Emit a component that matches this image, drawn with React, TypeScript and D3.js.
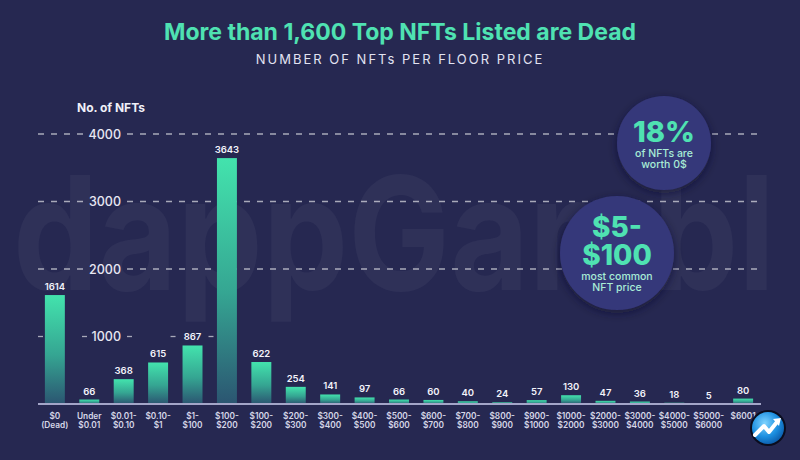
import React from 'react';
import * as d3 from 'd3';

const categoryTop = ['$0', 'Under', '$0.01-', '$0.10-', '$1-', '$100-', '$100-', '$200-', '$300-', '$400-', '$500-', '$600-', '$700-', '$800-', '$900-', '$1000-', '$2000-', '$3000-', '$4000-', '$5000-', '$6001'];
const categoryBottom = ['(Dead)', '$0.01', '$0.10', '$1', '$100', '$200', '$200', '$300', '$400', '$500', '$600', '$700', '$800', '$900', '$1000', '$2000', '$3000', '$4000', '$5000', '$6000', ''];
const nftCounts = [1614, 66, 368, 615, 867, 3643, 622, 254, 141, 97, 66, 60, 40, 24, 57, 130, 47, 36, 18, 5, 80];
const yTicks = [1000, 2000, 3000, 4000];

const W = 800;
const H = 460;
const BG = '#262851';
const MINT = '#4fe2b2';
const FONT = 'Inter, "Noto Sans", sans-serif';

const App: React.FC = () => {
  const idx = nftCounts.map((_, i) => String(i));

  const x = d3.scaleBand<string>()
    .domain(idx)
    .range([38, 760])
    .paddingInner(0.42)
    .paddingOuter(0.2);

  const y = d3.scaleLinear()
    .domain([0, 4000])
    .range([404, 134]);

  const bw = x.bandwidth();
  const cx = (i: number) => (x(String(i)) ?? 0) + bw / 2;

  // full dashed lines, broken around the tick label
  const gridLeft = 38;
  const gridRight = 760;
  const labelGapL = 88;
  const labelGapR = 127;

  return (
    <svg width={W} height={H} style={{ position: 'fixed', left: 0, top: 0, background: BG }}>
      <defs>
        <linearGradient id="bar-grad" x1="0" y1="0" x2="0" y2="1">
          <stop offset="0%" stopColor="#43e3ad" />
          <stop offset="55%" stopColor="#35a592" />
          <stop offset="100%" stopColor="#2b5571" />
        </linearGradient>
        <radialGradient id="logo-grad" cx="40%" cy="35%" r="70%">
          <stop offset="0%" stopColor="#7fd4ff" />
          <stop offset="60%" stopColor="#1c8fe0" />
          <stop offset="100%" stopColor="#0b5aa8" />
        </radialGradient>
        <filter id="bubble-shadow" x="-30%" y="-30%" width="160%" height="160%">
          <feDropShadow dx="0" dy="3" stdDeviation="5" floodColor="#12132e" floodOpacity="0.6" />
        </filter>
      </defs>

      <rect width={W} height={H} fill={BG} />

      {/* watermark */}
      <text x={13} y={290} fontFamily={FONT} fontWeight={700} fontSize={158}
        fill="#ffffff" fillOpacity={0.045} textLength={762} lengthAdjust="spacingAndGlyphs">
        dappGambl
      </text>

      {/* title */}
      <text x={W / 2} y={40} textAnchor="middle" fontFamily={FONT} fontWeight={700} fontSize={23} fill={MINT}>
        More than 1,600 Top NFTs Listed are Dead
      </text>
      <text x={W / 2} y={64} textAnchor="middle" fontFamily={FONT} fontSize={13} letterSpacing={2} fill="#e2e3f2">
        NUMBER OF NFTs PER FLOOR PRICE
      </text>

      <text x={77} y={112} fontFamily={FONT} fontWeight={700} fontSize={12} fill="#f0f0f8">No. of NFTs</text>

      {/* grid */}
      {yTicks.map(t => (
        <g key={t}>
          {t !== 1000 ? (
            <>
              <line x1={gridLeft} x2={labelGapL} y1={y(t)} y2={y(t)} stroke="#ffffff" strokeOpacity={0.6} strokeWidth={1.3} strokeDasharray="6 7" />
              <line x1={labelGapR} x2={gridRight} y1={y(t)} y2={y(t)} stroke="#ffffff" strokeOpacity={0.6} strokeWidth={1.3} strokeDasharray="6 7" />
            </>
          ) : (
            <>
              {[gridLeft, labelGapL - 6, labelGapR, cx(4) - bw / 2 - 12, cx(4) + bw / 2 + 6].map((d, k) => (
                <line key={k} x1={d} x2={d + 5} y1={y(t)} y2={y(t)} stroke="#ffffff" strokeOpacity={0.6} strokeWidth={1.3} />
              ))}
            </>
          )}
          <text x={121} y={y(t) + 4.5} textAnchor="end" fontFamily={FONT} fontWeight={500} fontSize={12.5} fill="#e6e6f2">
            {t}
          </text>
        </g>
      ))}

      {/* bars */}
      {nftCounts.map((v, i) => (
        <g key={i}>
          <rect x={x(String(i))} y={y(v)} width={bw} height={y(0) - y(v)} fill="url(#bar-grad)" />
          <text x={cx(i)} y={y(v) - 5} textAnchor="middle" fontFamily={FONT} fontWeight={600} fontSize={9.5} fill="#f2f2fa">
            {v}
          </text>
          <text x={cx(i)} y={419} textAnchor="middle" fontFamily={FONT} fontWeight={600} fontSize={8.3} fill="#d6d7e8">
            {categoryTop[i]}
          </text>
          <text x={cx(i)} y={428} textAnchor="middle" fontFamily={FONT} fontWeight={600} fontSize={8.3} fill="#d6d7e8">
            {categoryBottom[i]}
          </text>
        </g>
      ))}

      <line x1={38} x2={761} y1={404} y2={404} stroke="#a3a5c8" strokeWidth={2} />

      {/* bubbles */}
      <g filter="url(#bubble-shadow)">
        <circle cx={664} cy={143} r={47} fill="#35377a" />
        <circle cx={617} cy={253} r={57} fill="#35377a" />
      </g>
      <text x={664} y={142} textAnchor="middle" fontFamily={FONT} fontWeight={800} fontSize={29} fill={MINT}>18%</text>
      <text x={664} y={157} textAnchor="middle" fontFamily={FONT} fontWeight={500} fontSize={10.5} fill="#a8ecd6">of NFTs are</text>
      <text x={664} y={168} textAnchor="middle" fontFamily={FONT} fontWeight={500} fontSize={10.5} fill="#a8ecd6">worth 0$</text>

      <text x={617} y={237} textAnchor="middle" fontFamily={FONT} fontWeight={800} fontSize={28} fill={MINT}>$5-</text>
      <text x={617} y={265} textAnchor="middle" fontFamily={FONT} fontWeight={800} fontSize={28} fill={MINT}>$100</text>
      <text x={617} y={280} textAnchor="middle" fontFamily={FONT} fontWeight={500} fontSize={10.5} fill="#a8ecd6">most common</text>
      <text x={617} y={291} textAnchor="middle" fontFamily={FONT} fontWeight={500} fontSize={10.5} fill="#a8ecd6">NFT price</text>

      {/* logo */}
      <g transform="translate(768,428)">
        <circle r={18} fill="#0b0d1e" />
        <circle r={16} fill="url(#logo-grad)" />
        <path d="M-13,7 L-4,-2 L1,4 L9,-6" fill="none" stroke="#ffffff" strokeWidth={4} strokeLinejoin="round" strokeLinecap="round" />
        <path d="M5,-9 L13,-10 L11,-2 Z" fill="#ffffff" />
      </g>
    </svg>
  );
};

export default App;
